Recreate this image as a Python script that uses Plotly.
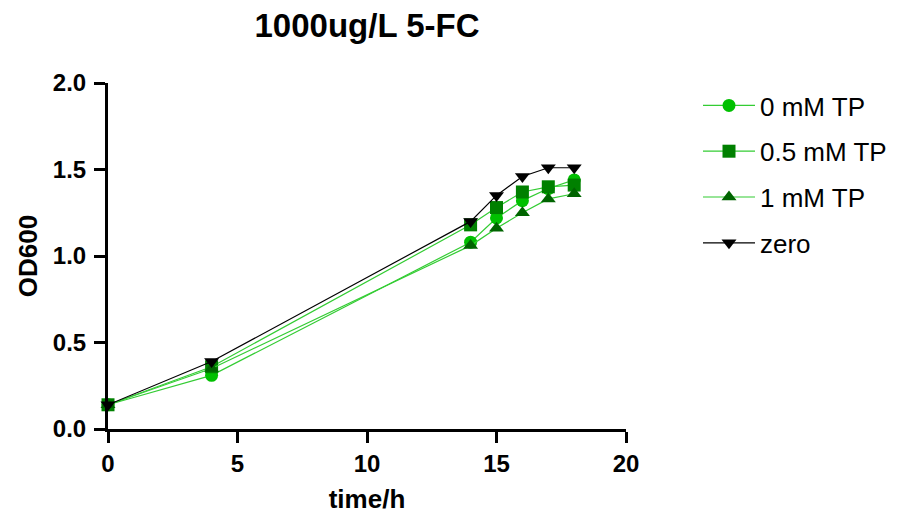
import plotly.graph_objects as go

time_h = [0, 4, 14, 15, 16, 17, 18]
od_0mM = [0.14, 0.31, 1.08, 1.22, 1.32, 1.39, 1.44]
od_05mM = [0.14, 0.36, 1.18, 1.28, 1.37, 1.40, 1.41]
od_1mM = [0.14, 0.35, 1.06, 1.16, 1.25, 1.33, 1.36]
od_zero = [0.14, 0.39, 1.20, 1.35, 1.46, 1.51, 1.51]

series = [
    ("0 mM TP", od_0mM, "circle", "#00c000", "#33cc33"),
    ("0.5 mM TP", od_05mM, "square", "#008000", "#33cc33"),
    ("1 mM TP", od_1mM, "triangle-up", "#006400", "#33cc33"),
    ("zero", od_zero, "triangle-down", "#000000", "#000000"),
]

fig = go.Figure()
for i, (name, ys, sym, mcol, lcol) in enumerate(series):
    fig.add_trace(go.Scatter(
        x=time_h, y=ys, name=name, mode="lines+markers",
        line=dict(color=lcol, width=1.2),
        marker=dict(symbol=sym, size=13, color=mcol),
        cliponaxis=False, legendgroup=f"g{i}",
    ))

font = "Liberation Sans, Arial, sans-serif"
W, H = 899, 513
L, T = 100, 75
PR, PB = 618, 421
fig.update_layout(
    width=W, height=H,
    plot_bgcolor="white", paper_bgcolor="white",
    margin=dict(l=L, r=W - PR, t=T, b=H - PB, autoexpand=False),
    title=dict(text="<b>1000ug/L 5-FC</b>", x=359 / W, xanchor="center",
               y=1 - 17 / H, yanchor="middle",
               font=dict(family=font, size=33, color="black")),
    font=dict(family=font, color="black"),
    legend=dict(x=(690 - L) / (PR - L), y=1 - (74 - T) / (PB - T), xanchor="left", yanchor="top",
                font=dict(family=font, size=26, color="black"),
                tracegroupgap=9, itemwidth=52, bgcolor="rgba(0,0,0,0)"),
    showlegend=True,
)
fig.update_xaxes(
    range=[0, 20], tickvals=[0, 5, 10, 15, 20], showgrid=False, zeroline=False,
    showline=True, linecolor="black", linewidth=3, automargin=False,
    ticks="outside", ticklen=11, tickwidth=3, tickcolor="black",
    tickfont=dict(family=font, size=24, color="black", weight="bold"),
    title=dict(text="<b>time/h</b>", font=dict(family=font, size=26, color="black"), standoff=15),
)
fig.update_yaxes(
    range=[0, 2], tickvals=[0, 0.5, 1.0, 1.5, 2.0], tickformat=".1f", showgrid=False, zeroline=False,
    showline=True, linecolor="black", linewidth=3, automargin=False,
    ticks="outside", ticklen=11, tickwidth=3, tickcolor="black",
    tickfont=dict(family=font, size=24, color="black", weight="bold"),
    ticklabelstandoff=3,
    title=dict(text="<b>OD600</b>", font=dict(family=font, size=26, color="black"), standoff=8),
)
fig.write_html("out.html")
